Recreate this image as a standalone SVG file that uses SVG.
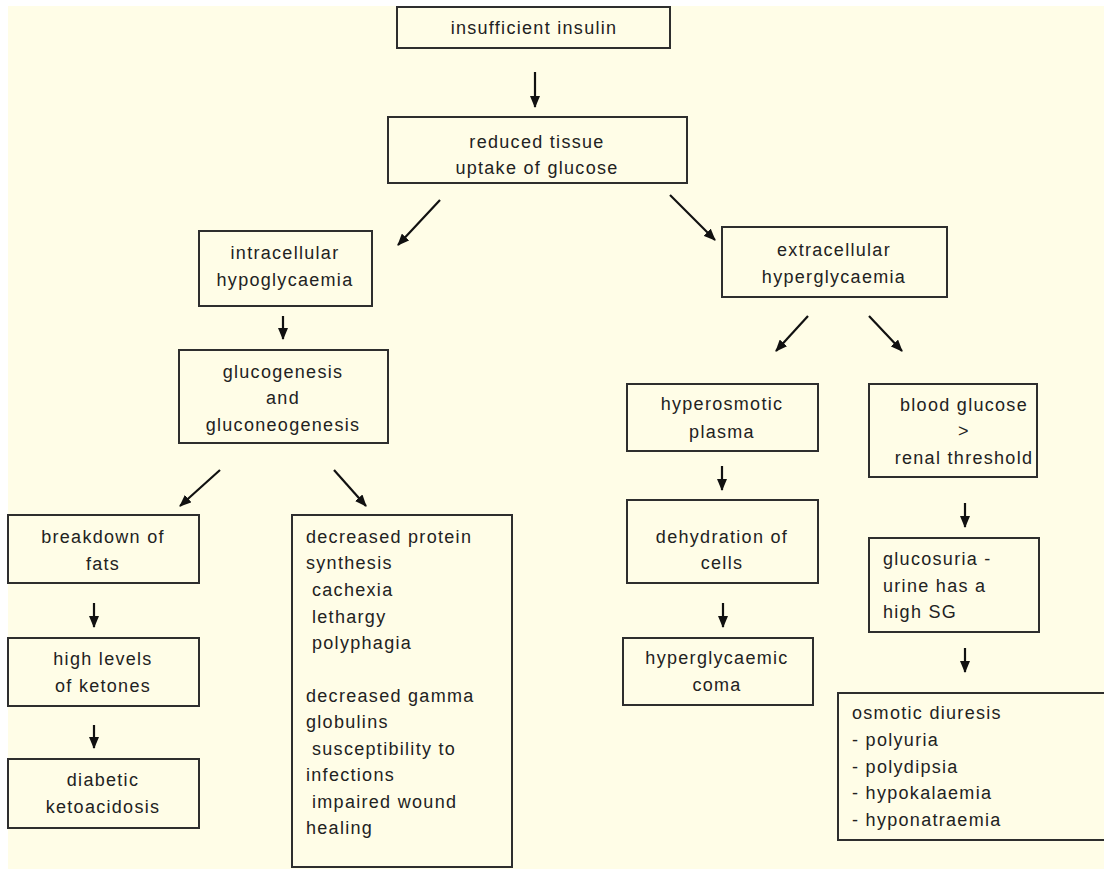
<svg xmlns="http://www.w3.org/2000/svg" width="1104" height="869" viewBox="0 0 1104 869">
<style>
.box{fill:none;stroke:#2e2e2e;stroke-width:2}
text{font-family:"Liberation Sans",Arial,sans-serif;font-size:18px;fill:#222;letter-spacing:1.3px}
.c{text-anchor:middle}
.arr{stroke:#111;stroke-width:2.2;fill:none;marker-end:url(#ah)}
</style>
<defs>
<marker id="ah" markerUnits="userSpaceOnUse" markerWidth="12" markerHeight="10" refX="11" refY="5" orient="auto">
<path d="M0,0 L12,5 L0,10 z" fill="#111"/>
</marker>
</defs>
<rect x="0" y="0" width="1104" height="869" fill="#ffffff"/>
<rect x="8" y="6" width="1096" height="863" fill="#fffde7"/>

<g id="connectors">
<line class="arr" x1="535" y1="72" x2="535" y2="107"/>
<line class="arr" x1="440" y1="200" x2="398" y2="245"/>
<line class="arr" x1="670" y1="195" x2="715" y2="240"/>
<line class="arr" x1="283" y1="316" x2="283" y2="339"/>
<line class="arr" x1="808" y1="316" x2="776" y2="351"/>
<line class="arr" x1="869" y1="316" x2="902" y2="351"/>
<line class="arr" x1="722" y1="466" x2="722" y2="490"/>
<line class="arr" x1="723" y1="603" x2="723" y2="627"/>
<line class="arr" x1="965" y1="503" x2="965" y2="527"/>
<line class="arr" x1="965" y1="648" x2="965" y2="672"/>
<line class="arr" x1="220" y1="470" x2="180" y2="506"/>
<line class="arr" x1="334" y1="470" x2="366" y2="506"/>
<line class="arr" x1="94" y1="603" x2="94" y2="627"/>
<line class="arr" x1="94" y1="725" x2="94" y2="748"/>
</g>

<g id="insufficient">
<rect class="box" x="397" y="7" width="273" height="41"/>
<text class="c" x="534" y="34">insufficient insulin</text>
</g>
<g id="reduced">
<rect class="box" x="388" y="117" width="299" height="66"/>
<text class="c" x="537" y="148">reduced tissue</text>
<text class="c" x="537" y="174">uptake of glucose</text>
</g>
<g id="intracellular">
<rect class="box" x="199" y="231" width="173" height="75"/>
<text class="c" x="285" y="259">intracellular</text>
<text class="c" x="285" y="286">hypoglycaemia</text>
</g>
<g id="glucogenesis">
<rect class="box" x="179" y="350" width="209" height="93"/>
<text class="c" x="283" y="378">glucogenesis</text>
<text class="c" x="283" y="404">and</text>
<text class="c" x="283" y="431">gluconeogenesis</text>
</g>
<g id="extracellular">
<rect class="box" x="722" y="227" width="225" height="70"/>
<text class="c" x="834" y="256">extracellular</text>
<text class="c" x="834" y="283">hyperglycaemia</text>
</g>
<g id="hyperosmotic">
<rect class="box" x="627" y="384" width="191" height="67"/>
<text class="c" x="722" y="410">hyperosmotic</text>
<text class="c" x="722" y="438">plasma</text>
</g>
<g id="blood">
<rect class="box" x="869" y="384" width="168" height="93"/>
<text class="c" x="964" y="411">blood glucose</text>
<text class="c" x="964" y="437">&gt;</text>
<text class="c" x="964" y="464">renal threshold</text>
</g>
<g id="dehydration">
<rect class="box" x="627" y="500" width="191" height="83"/>
<text class="c" x="722" y="543">dehydration of</text>
<text class="c" x="722" y="569">cells</text>
</g>
<g id="coma">
<rect class="box" x="623" y="638" width="190" height="67"/>
<text class="c" x="717" y="664">hyperglycaemic</text>
<text class="c" x="717" y="691">coma</text>
</g>
<g id="glucosuria">
<rect class="box" x="869" y="538" width="170" height="94"/>
<text x="883" y="565">glucosuria -</text>
<text x="883" y="592">urine has a</text>
<text x="883" y="618">high SG</text>
</g>
<g id="osmotic">
<rect class="box" x="838" y="693" width="280" height="147"/>
<text x="852" y="719">osmotic diuresis</text>
<text x="852" y="746">- polyuria</text>
<text x="852" y="773">- polydipsia</text>
<text x="852" y="799">- hypokalaemia</text>
<text x="852" y="826">- hyponatraemia</text>
</g>
<g id="breakdown">
<rect class="box" x="8" y="515" width="191" height="68"/>
<text class="c" x="103" y="543">breakdown of</text>
<text class="c" x="103" y="570">fats</text>
</g>
<g id="ketones">
<rect class="box" x="8" y="638" width="191" height="68"/>
<text class="c" x="103" y="665">high levels</text>
<text class="c" x="103" y="692">of ketones</text>
</g>
<g id="diabetic">
<rect class="box" x="8" y="759" width="191" height="69"/>
<text class="c" x="103" y="786">diabetic</text>
<text class="c" x="103" y="813">ketoacidosis</text>
</g>
<g id="decreased">
<rect class="box" x="292" y="515" width="220" height="352"/>
<text x="306" y="543">decreased protein</text>
<text x="306" y="569">synthesis</text>
<text x="312" y="596">cachexia</text>
<text x="312" y="623">lethargy</text>
<text x="312" y="649">polyphagia</text>
<text x="306" y="702">decreased gamma</text>
<text x="306" y="728">globulins</text>
<text x="312" y="755">susceptibility to</text>
<text x="306" y="781">infections</text>
<text x="312" y="808">impaired wound</text>
<text x="306" y="834">healing</text>
</g>
</svg>
